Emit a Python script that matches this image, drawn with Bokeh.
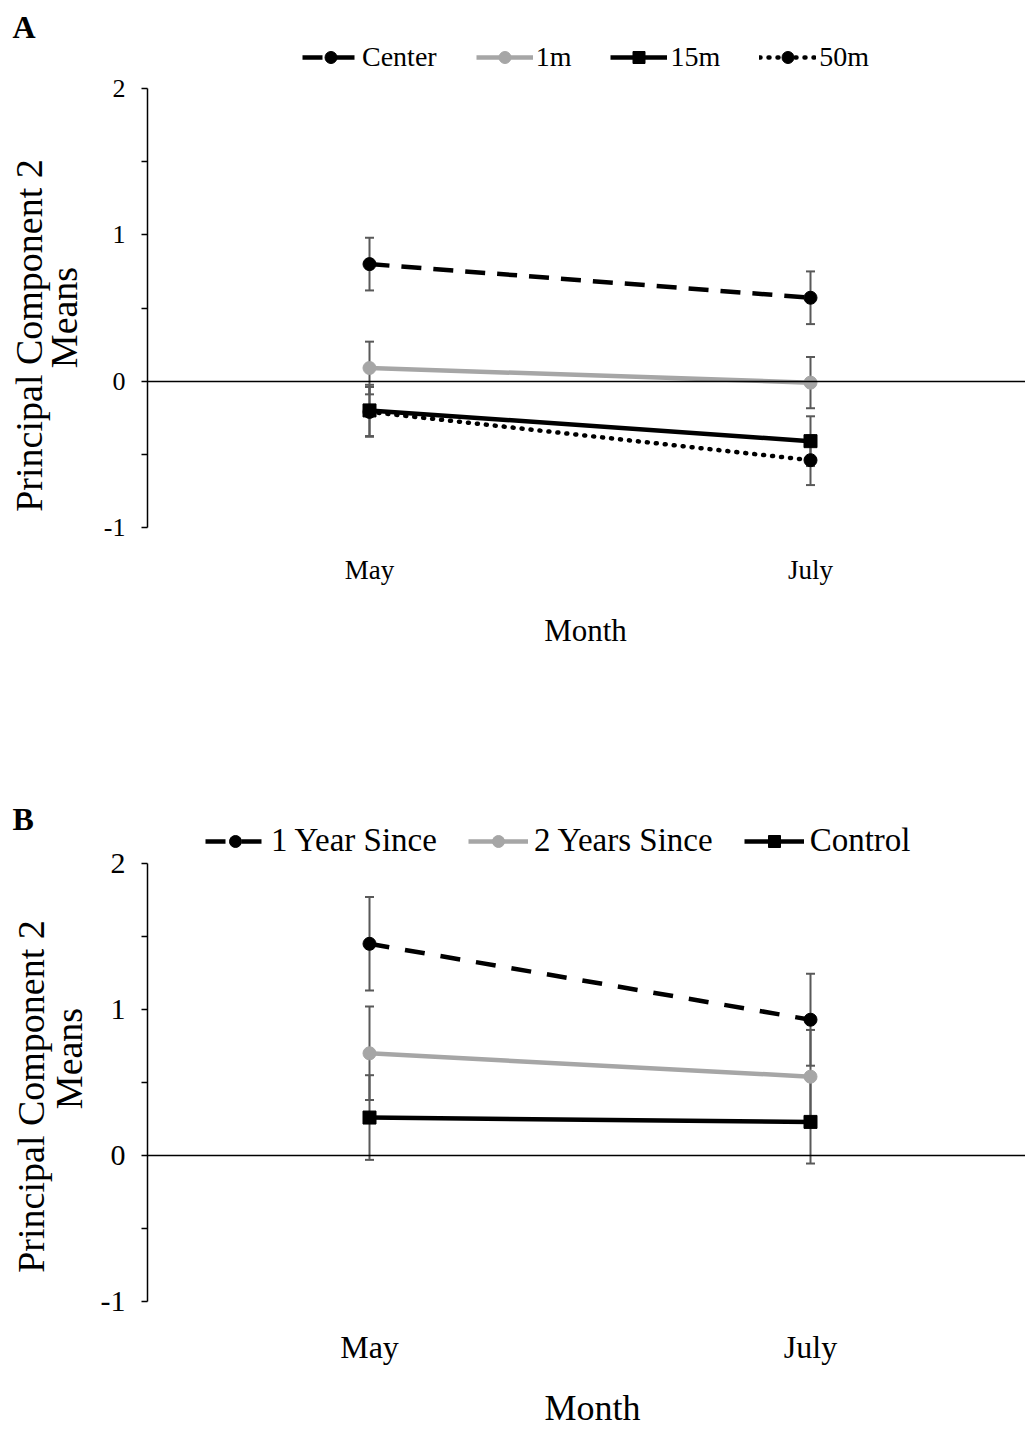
import math
from bokeh.plotting import figure
from bokeh.models import (ColumnDataSource, Whisker, TeeHead, Legend, LegendItem,
                          Label, FixedTicker, Range1d, LinearAxis, PrintfTickFormatter)
from bokeh.layouts import column
from bokeh.embed import file_html
from bokeh.resources import INLINE

# ---------------- data ----------------
months = ["May", "July"]
y_ticks = [-1, 0, 1, 2]
y_minor_ticks = [-0.5, 0.5, 1.5]

# Panel A
a_labels = ["Center", "1m", "15m", "50m"]
a_center = [0.80, 0.57]
a_center_err = [0.18, 0.18]
a_1m = [0.09, -0.01]
a_1m_err = [0.18, 0.175]
a_15m = [-0.20, -0.41]
a_15m_err = [0.175, 0.17]
a_50m = [-0.21, -0.54]
a_50m_err = [0.17, 0.17]

# Panel B
b_labels = ["1 Year Since", "2 Years Since", "Control"]
b_1yr = [1.45, 0.93]
b_1yr_err = [0.32, 0.315]
b_2yr = [0.70, 0.54]
b_2yr_err = [0.32, 0.32]
b_ctrl = [0.26, 0.23]
b_ctrl_err = [0.29, 0.285]

x_title = "Month"
y_title_1 = "Principal Component 2"
y_title_2 = "Means"

FONT = "Liberation Serif"
ERR = "#595959"
GRAY = "#a6a6a6"
BLACK = "#000000"

W = 1025
AXIS_X = 147          # pixel column of the value axis
FIRST_CAT_X = 369     # pixel column of the first category
CAT_STEP = 441        # pixels between categories


def make_panel(series, cfg):
    H = cfg["height"]
    top_px, bot_px = cfg["frame_top"], cfg["frame_bottom"]
    ppu = (bot_px - top_px) / 3.0
    y1 = 2 + top_px / ppu
    y0 = -1 - (H - bot_px) / ppu
    x0 = -FIRST_CAT_X / CAT_STEP
    x1 = (W - FIRST_CAT_X) / CAT_STEP
    axis_x = x0 + AXIS_X / CAT_STEP
    xs = list(range(len(months)))

    p = figure(x_range=Range1d(x0, x1), y_range=Range1d(y0, y1),
               width=W, height=H, output_backend="svg", toolbar_location=None,
               min_border=0, min_border_left=0, min_border_right=0,
               min_border_top=0, min_border_bottom=0,
               background_fill_color="white", border_fill_color="white")
    p.outline_line_color = None
    p.grid.visible = False

    # value axis
    ya = p.yaxis[0]
    ya.fixed_location = axis_x
    ya.bounds = (-1, 2)
    ya.ticker = FixedTicker(ticks=y_ticks, minor_ticks=y_minor_ticks)
    ya.formatter = PrintfTickFormatter(format="%d")
    ya.axis_line_color = BLACK
    ya.axis_line_width = 1.5
    ya.major_tick_line_color = BLACK
    ya.major_tick_line_width = 1.5
    ya.minor_tick_line_color = BLACK
    ya.minor_tick_line_width = 1.5
    ya.major_tick_in = 0
    ya.major_tick_out = 6
    ya.minor_tick_in = 0
    ya.minor_tick_out = 6
    ya.major_label_text_font = FONT
    ya.major_label_text_font_size = cfg["tick_size"]
    ya.major_label_text_color = BLACK
    ya.major_label_standoff = 16

    # category axis line crossing at 0
    xa = p.xaxis[0]
    xa.fixed_location = 0
    xa.bounds = (axis_x, x1)
    xa.ticker = FixedTicker(ticks=[])
    xa.axis_line_color = BLACK
    xa.axis_line_width = 1.5
    xa.major_tick_line_color = None
    xa.minor_tick_line_color = None
    xa.major_label_text_font_size = "0px"

    # category labels at the bottom of the value range
    xl = LinearAxis(fixed_location=-1, ticker=FixedTicker(ticks=xs),
                    major_label_overrides={i: m for i, m in zip(xs, months)})
    xl.axis_line_color = None
    xl.major_tick_line_color = None
    xl.minor_tick_line_color = None
    xl.major_label_text_font = FONT
    xl.major_label_text_font_size = cfg["cat_size"]
    xl.major_label_text_color = BLACK
    xl.major_label_standoff = cfg["cat_standoff"]
    p.add_layout(xl, "below")

    for name, vals, errs, color, dash, marker in series:
        src = ColumnDataSource(dict(
            x=xs,
            upper=[v + e for v, e in zip(vals, errs)],
            lower=[v - e for v, e in zip(vals, errs)]))
        w = Whisker(base="x", upper="upper", lower="lower", source=src,
                    line_color=ERR, line_width=2,
                    upper_head=TeeHead(size=9, line_color=ERR, line_width=2),
                    lower_head=TeeHead(size=9, line_color=ERR, line_width=2))
        p.add_layout(w)

    items = []
    for name, vals, errs, color, dash, marker in series:
        lr = p.line(xs, vals, line_color=color, line_width=4.5, line_dash=dash,
                    line_cap="round" if dash == "1 8" else "butt")
        mr = p.scatter(xs, vals, marker=marker, size=cfg["msize"],
                       fill_color=color, line_color=color)
        items.append(LegendItem(label=name, renderers=[lr, mr]))

    leg = Legend(items=items, location=cfg["legend_loc"], orientation="horizontal",
                 glyph_width=cfg["glyph_w"], glyph_height=30, label_height=30,
                 label_standoff=cfg["standoff"], spacing=cfg["spacing"], padding=0, margin=0,
                 border_line_color=None, background_fill_alpha=0,
                 label_text_font=FONT, label_text_font_size=cfg["legend_size"],
                 label_text_color=BLACK)
    p.add_layout(leg)

    def lab(x, y, text, size, **kw):
        p.add_layout(Label(x=x, y=H - y, x_units="screen", y_units="screen",
                           text=text, text_font=FONT, text_font_size=size,
                           text_color=BLACK, text_baseline="middle", **kw))

    lab(12, cfg["letter_y"], cfg["letter"], "32px", text_font_style="bold")
    lab(cfg["t1"][0], cfg["t1"][1], y_title_1, "38px", angle=math.pi / 2,
        text_align="center")
    lab(cfg["t2"][0], cfg["t2"][1], y_title_2, "38px", angle=math.pi / 2,
        text_align="center")
    lab(cfg["month"][0], cfg["month"][1], x_title, cfg["month_size"],
        text_align="center")
    return p


series_a = [
    (a_labels[0], a_center, a_center_err, BLACK, "20 12", "circle"),
    (a_labels[1], a_1m, a_1m_err, GRAY, "solid", "circle"),
    (a_labels[2], a_15m, a_15m_err, BLACK, "solid", "square"),
    (a_labels[3], a_50m, a_50m_err, BLACK, "1 8", "circle"),
]
series_b = [
    (b_labels[0], b_1yr, b_1yr_err, BLACK, "20 16", "circle"),
    (b_labels[1], b_2yr, b_2yr_err, GRAY, "solid", "circle"),
    (b_labels[2], b_ctrl, b_ctrl_err, BLACK, "solid", "square"),
]

# positions below are in pixels from each panel's top-left corner
cfg_a = dict(height=775, frame_top=88, frame_bottom=527,
             cat_size="27px", cat_standoff=21, tick_size="26px",
             msize=13, legend_loc=(302, 775 - 73), glyph_w=57, standoff=3, spacing=39,
             legend_size="28px", letter="A", letter_y=26,
             t1=(28, 335), t2=(63, 317), month=(585, 630), month_size="31px")
cfg_b = dict(height=654, frame_top=88, frame_bottom=526,
             cat_size="32px", cat_standoff=21, tick_size="30px",
             msize=13, legend_loc=(205, 654 - 84), glyph_w=60, standoff=6, spacing=31,
             legend_size="33px", letter="B", letter_y=43,
             t1=(30, 321), t2=(68, 283), month=(592, 632), month_size="36px")

pa = make_panel(series_a, cfg_a)
pb = make_panel(series_b, cfg_b)
layout = column(pa, pb, spacing=0)

open("out.html", "w").write(file_html(layout, INLINE))
